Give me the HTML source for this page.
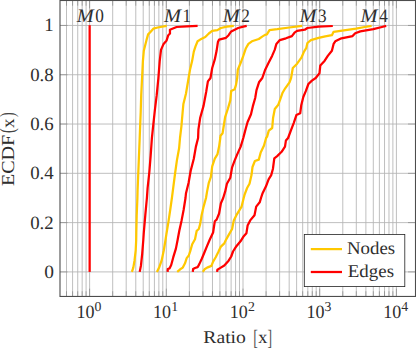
<!DOCTYPE html>
<html><head><meta charset="utf-8"><title>ECDF</title>
<style>html,body{margin:0;padding:0;background:#fff}body{width:416px;height:348px;overflow:hidden;font-family:"Liberation Serif",serif}</style></head>
<body>
<svg width="416" height="348" viewBox="0 0 416 348" style="display:block" text-rendering="geometricPrecision">
<rect width="416" height="348" fill="#fff"/>
<path d="M66.51 0.5V296.45M72.58 0.5V296.45M77.72 0.5V296.45M82.17 0.5V296.45M86.09 0.5V296.45M89.60 0.5V296.45M112.69 0.5V296.45M126.20 0.5V296.45M135.78 0.5V296.45M143.21 0.5V296.45M149.28 0.5V296.45M154.42 0.5V296.45M158.87 0.5V296.45M162.79 0.5V296.45M166.30 0.5V296.45M189.39 0.5V296.45M202.90 0.5V296.45M212.48 0.5V296.45M219.91 0.5V296.45M225.98 0.5V296.45M231.12 0.5V296.45M235.57 0.5V296.45M239.49 0.5V296.45M243.00 0.5V296.45M266.09 0.5V296.45M279.60 0.5V296.45M289.18 0.5V296.45M296.61 0.5V296.45M302.68 0.5V296.45M307.82 0.5V296.45M312.27 0.5V296.45M316.19 0.5V296.45M319.70 0.5V296.45M342.79 0.5V296.45M356.30 0.5V296.45M365.88 0.5V296.45M373.31 0.5V296.45M379.38 0.5V296.45M384.52 0.5V296.45M388.97 0.5V296.45M392.89 0.5V296.45M396.40 0.5V296.45M60.0 271.90H415.5M60.0 222.61H415.5M60.0 173.32H415.5M60.0 124.03H415.5M60.0 74.74H415.5M60.0 25.45H415.5" stroke="#b4b4b4" stroke-width="0.85" fill="none"/>
<path d="M66.51 296.45v-5.2M66.51 0.5v5.2M72.58 296.45v-5.2M72.58 0.5v5.2M77.72 296.45v-5.2M77.72 0.5v5.2M82.17 296.45v-5.2M82.17 0.5v5.2M86.09 296.45v-5.2M86.09 0.5v5.2M89.60 296.45v-7.8M89.60 0.5v7.8M112.69 296.45v-5.2M112.69 0.5v5.2M126.20 296.45v-5.2M126.20 0.5v5.2M135.78 296.45v-5.2M135.78 0.5v5.2M143.21 296.45v-5.2M143.21 0.5v5.2M149.28 296.45v-5.2M149.28 0.5v5.2M154.42 296.45v-5.2M154.42 0.5v5.2M158.87 296.45v-5.2M158.87 0.5v5.2M162.79 296.45v-5.2M162.79 0.5v5.2M166.30 296.45v-7.8M166.30 0.5v7.8M189.39 296.45v-5.2M189.39 0.5v5.2M202.90 296.45v-5.2M202.90 0.5v5.2M212.48 296.45v-5.2M212.48 0.5v5.2M219.91 296.45v-5.2M219.91 0.5v5.2M225.98 296.45v-5.2M225.98 0.5v5.2M231.12 296.45v-5.2M231.12 0.5v5.2M235.57 296.45v-5.2M235.57 0.5v5.2M239.49 296.45v-5.2M239.49 0.5v5.2M243.00 296.45v-7.8M243.00 0.5v7.8M266.09 296.45v-5.2M266.09 0.5v5.2M279.60 296.45v-5.2M279.60 0.5v5.2M289.18 296.45v-5.2M289.18 0.5v5.2M296.61 296.45v-5.2M296.61 0.5v5.2M302.68 296.45v-5.2M302.68 0.5v5.2M307.82 296.45v-5.2M307.82 0.5v5.2M312.27 296.45v-5.2M312.27 0.5v5.2M316.19 296.45v-5.2M316.19 0.5v5.2M319.70 296.45v-7.8M319.70 0.5v7.8M342.79 296.45v-5.2M342.79 0.5v5.2M356.30 296.45v-5.2M356.30 0.5v5.2M365.88 296.45v-5.2M365.88 0.5v5.2M373.31 296.45v-5.2M373.31 0.5v5.2M379.38 296.45v-5.2M379.38 0.5v5.2M384.52 296.45v-5.2M384.52 0.5v5.2M388.97 296.45v-5.2M388.97 0.5v5.2M392.89 296.45v-5.2M392.89 0.5v5.2M396.40 296.45v-7.8M396.40 0.5v7.8M60.0 271.90h7.5M415.5 271.90h-7.5M60.0 222.61h7.5M415.5 222.61h-7.5M60.0 173.32h7.5M415.5 173.32h-7.5M60.0 124.03h7.5M415.5 124.03h-7.5M60.0 74.74h7.5M415.5 74.74h-7.5M60.0 25.45h7.5M415.5 25.45h-7.5" stroke="#6e6e6e" stroke-width="0.5" fill="none"/>
<path d="M89.64999999999999 271.9V25.15" stroke="#ff0000" stroke-width="2.25" fill="none"/>
<path d="M131.90 271.90 L133.30 267.60 L134.50 260.70 L135.70 250.30 L136.20 240.00 L136.30 232.50 L136.70 215.20 L137.40 198.00 L137.60 189.70 L138.30 172.50 L139.00 155.20 L139.70 138.00 L140.00 129.70 L140.70 112.50 L141.20 95.20 L142.07 78.00 L142.90 61.10 L143.80 50.80 L146.40 40.40 L148.10 34.40 L150.70 31.80 L153.30 28.70 L157.60 27.50 L166.70 25.80" stroke="#ffc800" stroke-width="2.25" fill="none" stroke-linejoin="round"/>
<path d="M139.70 271.90 L140.90 265.90 L142.20 253.80 L143.30 240.00 L143.80 232.50 L145.30 215.20 L146.90 198.00 L147.60 188.00 L149.30 172.50 L150.70 155.20 L151.90 138.00 L153.30 124.60 L155.00 109.00 L156.70 95.20 L158.40 78.00 L159.70 61.10 L161.00 49.90 L163.60 43.90 L166.60 40.40 L168.30 35.20 L170.00 33.50 L169.90 29.70 L176.60 27.00 L186.90 26.30 L197.60 25.80" stroke="#ff0000" stroke-width="2.25" fill="none" stroke-linejoin="round"/>
<path d="M156.90 271.90 L159.10 267.60 L161.60 260.70 L163.80 250.30 L165.50 240.00 L166.40 234.20 L168.40 222.10 L170.20 210.00 L171.90 198.00 L173.40 186.30 L175.20 172.50 L176.90 160.40 L179.10 148.30 L180.00 138.00 L181.40 126.30 L182.60 112.50 L183.40 103.90 L186.00 93.50 L188.60 78.00 L190.00 69.70 L192.10 61.10 L193.80 51.60 L195.50 46.40 L197.60 41.30 L200.20 39.60 L205.30 37.00 L208.80 33.50 L212.20 30.90 L217.40 30.10 L220.90 28.00 L226.90 26.60 L233.80 25.80" stroke="#ffc800" stroke-width="2.25" fill="none" stroke-linejoin="round"/>
<path d="M167.60 271.90 L167.80 269.00 L169.50 268.40 L171.20 265.00 L173.30 257.20 L175.90 248.60 L177.60 240.00 L179.30 230.80 L181.60 220.40 L183.60 210.00 L185.50 198.00 L186.00 193.20 L188.60 182.80 L190.70 170.80 L193.80 158.70 L195.90 146.60 L198.10 138.00 L198.40 129.70 L200.20 117.70 L203.60 105.60 L206.20 91.80 L207.90 81.40 L210.50 78.00 L212.20 68.00 L214.80 59.40 L216.60 50.80 L217.90 42.10 L219.10 39.60 L226.00 37.80 L228.60 35.20 L231.20 31.40 L234.70 29.70 L238.10 28.00 L243.30 26.60 L246.70 25.80" stroke="#ff0000" stroke-width="2.25" fill="none" stroke-linejoin="round"/>
<path d="M177.20 271.90 L180.20 269.30 L182.80 267.60 L185.00 263.30 L186.70 258.10 L188.80 255.50 L190.50 250.30 L192.20 244.30 L195.00 239.30 L196.70 230.80 L198.80 229.00 L200.20 223.90 L201.60 215.20 L203.60 206.60 L206.00 198.00 L207.10 191.40 L208.80 182.80 L210.90 176.80 L212.20 166.40 L214.80 158.70 L217.40 154.40 L219.10 146.60 L220.30 138.00 L220.50 135.80 L222.60 133.20 L223.40 128.00 L225.20 116.80 L227.80 109.00 L230.30 100.40 L231.20 90.90 L234.70 89.20 L236.00 84.90 L237.20 78.00 L237.80 69.70 L240.70 62.80 L243.30 55.90 L245.90 48.20 L248.40 43.90 L251.90 41.30 L258.80 39.00 L262.20 36.60 L265.00 34.90 L266.90 34.40 L269.50 30.10 L277.20 29.20 L289.30 27.50 L302.20 25.80" stroke="#ffc800" stroke-width="2.25" fill="none" stroke-linejoin="round"/>
<path d="M192.80 271.90 L193.10 269.00 L195.00 268.00 L197.60 267.20 L199.30 264.10 L201.90 258.50 L204.50 252.20 L207.10 245.80 L209.70 239.70 L213.10 232.50 L214.80 221.30 L216.60 219.60 L219.10 213.50 L220.90 203.20 L223.20 198.00 L225.20 191.40 L226.90 183.70 L230.30 177.70 L232.10 167.30 L234.70 160.40 L237.20 154.40 L240.70 146.60 L243.30 138.00 L244.10 134.90 L245.90 128.00 L247.60 122.00 L251.00 114.20 L252.80 106.40 L255.20 98.00 L256.50 90.10 L259.00 82.30 L262.30 78.00 L265.20 69.70 L268.60 62.80 L272.10 55.90 L274.70 49.90 L276.40 43.90 L279.80 40.10 L285.90 38.30 L291.90 36.10 L294.50 32.70 L297.10 30.90 L304.80 29.70 L307.40 28.00 L318.60 26.60 L332.80 26.00" stroke="#ff0000" stroke-width="2.25" fill="none" stroke-linejoin="round"/>
<path d="M202.80 271.90 L204.50 269.30 L207.10 267.60 L211.40 265.90 L213.10 261.60 L215.70 257.20 L218.30 252.10 L220.90 246.60 L224.30 243.40 L225.60 240.50 L228.60 235.10 L232.10 229.00 L233.80 220.40 L236.40 215.20 L241.60 206.60 L243.70 198.00 L244.50 194.90 L247.10 188.00 L249.50 183.70 L251.50 175.10 L252.50 167.00 L254.90 161.00 L258.80 159.60 L260.70 152.50 L264.00 145.50 L266.10 138.00 L267.10 136.60 L268.80 130.60 L272.20 128.00 L273.10 117.70 L274.80 109.00 L278.30 104.70 L280.50 98.70 L282.60 92.70 L285.20 88.30 L289.50 82.30 L291.10 78.00 L292.80 68.00 L297.10 63.70 L301.40 57.70 L304.00 51.60 L306.20 48.20 L307.40 43.00 L310.90 40.10 L318.60 37.80 L325.20 36.30 L331.90 35.20 L333.60 31.80 L342.20 30.60 L356.00 28.70 L364.70 27.00 L371.60 25.80" stroke="#ffc800" stroke-width="2.25" fill="none" stroke-linejoin="round"/>
<path d="M217.10 271.90 L217.40 269.70 L220.00 268.10 L224.30 265.50 L228.60 260.70 L231.20 256.50 L233.00 251.50 L236.40 246.20 L240.50 241.30 L243.30 236.80 L246.40 233.30 L247.60 225.60 L250.20 220.40 L254.50 215.20 L256.20 206.60 L259.70 202.30 L261.00 198.00 L262.60 193.20 L266.00 186.30 L268.60 179.40 L271.20 175.10 L272.90 169.00 L274.30 158.30 L277.20 156.10 L281.60 151.80 L285.00 146.60 L285.90 140.60 L288.10 138.00 L291.20 129.70 L293.80 122.80 L296.40 115.10 L300.20 113.30 L301.20 105.60 L303.30 97.00 L305.90 90.90 L308.40 84.00 L311.90 80.60 L315.70 78.00 L319.50 73.20 L320.30 65.40 L324.70 60.70 L327.80 55.90 L331.90 50.80 L333.60 43.90 L335.30 41.30 L341.40 38.30 L352.60 36.10 L355.20 33.20 L360.30 31.40 L373.30 29.20 L381.90 27.00 L386.20 25.80" stroke="#ff0000" stroke-width="2.25" fill="none" stroke-linejoin="round"/>
<rect x="60.0" y="0.5" width="355.5" height="295.95" fill="none" stroke="#4d4d4d" stroke-width="1.1"/>
<rect x="304.3" y="234.4" width="100.5" height="52.2" fill="#fff" stroke="#222" stroke-width="0.8"/>
<path d="M310.8 249.1H342" stroke="#ffc800" stroke-width="2.25"/>
<path d="M310.8 272H342" stroke="#ff0000" stroke-width="2.25"/>
<g font-family="Liberation Serif, serif" fill="#2e2e2e">
<text x="347.0" y="254.3" font-size="18.1" textLength="48.1" lengthAdjust="spacingAndGlyphs" >Nodes</text>
<text x="347.8" y="276.6" font-size="18.1" textLength="46.2" lengthAdjust="spacingAndGlyphs" >Edges</text>
<text x="44.2" y="277.80" font-size="18.8" textLength="9.7" lengthAdjust="spacingAndGlyphs" >0</text>
<text x="30.2" y="228.51" font-size="18.8" textLength="23.5" lengthAdjust="spacingAndGlyphs" >0.2</text>
<text x="30.2" y="179.22" font-size="18.8" textLength="23.5" lengthAdjust="spacingAndGlyphs" >0.4</text>
<text x="30.2" y="129.93" font-size="18.8" textLength="23.5" lengthAdjust="spacingAndGlyphs" >0.6</text>
<text x="30.2" y="80.64" font-size="18.8" textLength="23.5" lengthAdjust="spacingAndGlyphs" >0.8</text>
<text x="44.2" y="31.35" font-size="18.8" textLength="9.4" lengthAdjust="spacingAndGlyphs" >1</text>
<text x="76.40" y="317.9" font-size="18.8" textLength="18.0" lengthAdjust="spacingAndGlyphs" >10</text>
<text x="94.50" y="311.4" font-size="13.7" textLength="6.9" lengthAdjust="spacingAndGlyphs" >0</text>
<text x="153.10" y="317.9" font-size="18.8" textLength="18.0" lengthAdjust="spacingAndGlyphs" >10</text>
<text x="171.20" y="311.4" font-size="13.7" textLength="6.9" lengthAdjust="spacingAndGlyphs" >1</text>
<text x="229.80" y="317.9" font-size="18.8" textLength="18.0" lengthAdjust="spacingAndGlyphs" >10</text>
<text x="247.90" y="311.4" font-size="13.7" textLength="6.9" lengthAdjust="spacingAndGlyphs" >2</text>
<text x="306.50" y="317.9" font-size="18.8" textLength="18.0" lengthAdjust="spacingAndGlyphs" >10</text>
<text x="324.60" y="311.4" font-size="13.7" textLength="6.9" lengthAdjust="spacingAndGlyphs" >3</text>
<text x="383.20" y="317.9" font-size="18.8" textLength="18.0" lengthAdjust="spacingAndGlyphs" >10</text>
<text x="401.30" y="311.4" font-size="13.7" textLength="6.9" lengthAdjust="spacingAndGlyphs" >4</text>
<text x="203.3" y="343.3" font-size="17.9" textLength="42.6" lengthAdjust="spacingAndGlyphs" >Ratio</text>
<text x="258.3" y="343.3" font-size="17.9" textLength="9.1" lengthAdjust="spacingAndGlyphs" >x</text>
<text x="253.3" y="345.3" font-size="22" textLength="4.6" lengthAdjust="spacingAndGlyphs" fill="#555">[</text>
<text x="267.4" y="345.3" font-size="22" textLength="4.6" lengthAdjust="spacingAndGlyphs" fill="#555">]</text>
<g transform="translate(14.0 186.1) rotate(-90)">
<text x="0" y="0" font-size="18.2" textLength="51.3" lengthAdjust="spacingAndGlyphs" >ECDF</text>
<text x="53.0" y="0" font-size="20.9" textLength="4.7" lengthAdjust="spacingAndGlyphs" fill="#444">(</text>
<text x="58.2" y="0" font-size="18.2" textLength="9.4" lengthAdjust="spacingAndGlyphs" >x</text>
<text x="69.0" y="0" font-size="20.9" textLength="4.7" lengthAdjust="spacingAndGlyphs" fill="#444">)</text>
</g>
<text x="76.7" y="21.6" font-size="19.0" textLength="17.0" lengthAdjust="spacingAndGlyphs" font-style="italic">M</text>
<text x="95.30000000000001" y="21.9" font-size="19" textLength="8.6" lengthAdjust="spacingAndGlyphs" >0</text>
<text x="163.9" y="21.6" font-size="19.0" textLength="17.0" lengthAdjust="spacingAndGlyphs" font-style="italic">M</text>
<text x="182.5" y="21.9" font-size="19" textLength="8.6" lengthAdjust="spacingAndGlyphs" >1</text>
<text x="222.7" y="21.6" font-size="19.0" textLength="17.0" lengthAdjust="spacingAndGlyphs" font-style="italic">M</text>
<text x="241.29999999999998" y="21.9" font-size="19" textLength="8.6" lengthAdjust="spacingAndGlyphs" >2</text>
<text x="299.5" y="21.6" font-size="19.0" textLength="17.0" lengthAdjust="spacingAndGlyphs" font-style="italic">M</text>
<text x="318.1" y="21.9" font-size="19" textLength="8.6" lengthAdjust="spacingAndGlyphs" >3</text>
<text x="360.6" y="21.6" font-size="19.0" textLength="17.0" lengthAdjust="spacingAndGlyphs" font-style="italic">M</text>
<text x="379.20000000000005" y="21.9" font-size="19" textLength="8.6" lengthAdjust="spacingAndGlyphs" >4</text>
</g>
</svg>
</body></html>
